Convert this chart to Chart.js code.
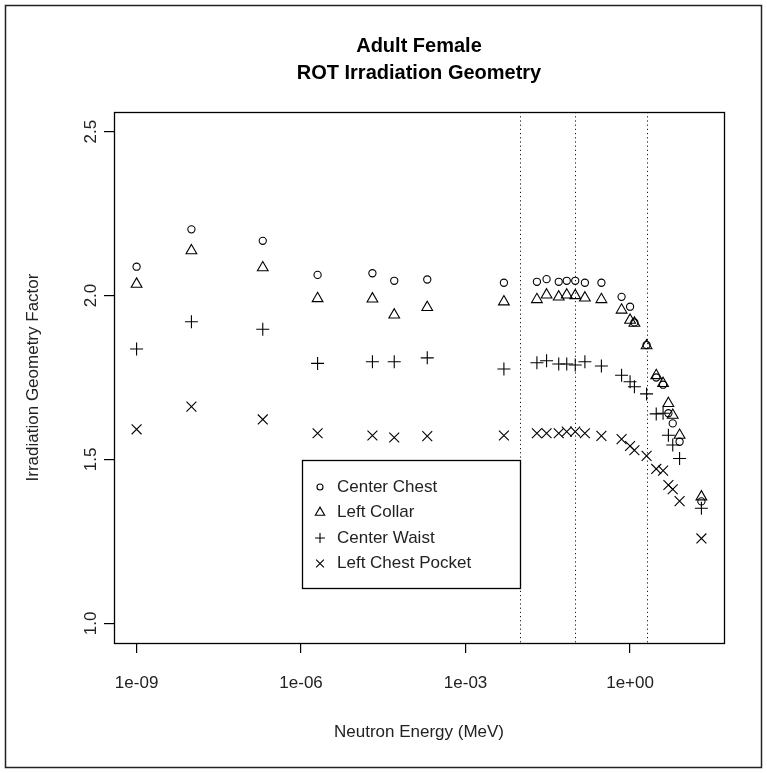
<!DOCTYPE html>
<html>
<head>
<meta charset="utf-8">
<title>Adult Female - ROT Irradiation Geometry</title>
<script src="https://cdn.jsdelivr.net/npm/chart.js@4/dist/chart.umd.min.js"></script>
<style>
  html, body { margin: 0; padding: 0; background: #fff; }
  #wrap { width: 767px; height: 773px; position: relative; }
</style>
</head>
<body>
<div id="wrap"><canvas id="chart" width="767" height="773"></canvas></div>
<script>
// Neutron energies (MeV) shared by all four dosimeter positions
const energies = [1e-9, 1e-8, 2e-7, 2e-6, 2e-5, 5e-5, 2e-4, 5e-3,
                  0.02, 0.03, 0.05, 0.07, 0.1, 0.15, 0.3,
                  0.7, 1, 1.2, 2, 3, 4, 5, 6, 8, 20];

// Irradiation geometry factor per position
const centerChest = [2.088, 2.202, 2.167, 2.063, 2.068, 2.045, 2.049, 2.039,
                     2.042, 2.050, 2.042, 2.045, 2.045, 2.039, 2.039,
                     1.996, 1.966, 1.918, 1.849, 1.750, 1.728, 1.641, 1.610, 1.554, 1.372];
const leftCollar = [2.035, 2.137, 2.085, 1.991, 1.990, 1.941, 1.964, 1.981,
                    1.988, 2.002, 1.996, 2.002, 2.000, 1.993, 1.988,
                    1.956, 1.925, 1.916, 1.847, 1.756, 1.732, 1.671, 1.635, 1.574, 1.386];
const centerWaist = [1.837, 1.920, 1.897, 1.793, 1.798, 1.798, 1.810, 1.776,
                     1.795, 1.801, 1.791, 1.791, 1.788, 1.798, 1.785,
                     1.757, 1.737, 1.722, 1.700, 1.639, 1.641, 1.574, 1.544, 1.503, 1.351];
const leftChestPocket = [1.592, 1.661, 1.622, 1.580, 1.573, 1.567, 1.571, 1.573,
                         1.580, 1.580, 1.580, 1.585, 1.585, 1.580, 1.572,
                         1.562, 1.541, 1.528, 1.511, 1.471, 1.466, 1.422, 1.409, 1.373, 1.259];

const seriesNames = ['Center Chest', 'Left Collar', 'Center Waist', 'Left Chest Pocket'];

// Axis ticks and limits
const xTickValues = [1e-9, 1e-6, 1e-3, 1];
const xTickLabels = ['1e-09', '1e-06', '1e-03', '1e+00'];
const yTickValues = [1.0, 1.5, 2.0, 2.5];
const yTickLabels = ['1.0', '1.5', '2.0', '2.5'];
const yLimits = [1.0, 2.5];

// Energy region boundaries (MeV), drawn as dotted verticals
const boundaryEnergies = [0.01, 0.1, 2];

const titleLines = ['Adult Female', 'ROT Irradiation Geometry'];
const xTitle = 'Neutron Energy (MeV)';
const yTitle = 'Irradiation Geometry Factor';

// ---------------------------------------------------------------------------
const FONT = "'Liberation Sans', Arial, Helvetica, sans-serif";

// pad a range by 4% on each side, like base R's default axis style
function padRange(lo, hi) {
  const d = (hi - lo) * 0.04;
  return [lo - d, hi + d];
}
const logRange = padRange(Math.log10(Math.min(...energies)), Math.log10(Math.max(...energies)));
const yRange = padRange(yLimits[0], yLimits[1]);

function toPoints(values) {
  return energies.map((e, i) => ({ x: e, y: values[i] }));
}

const symbolStyles = [
  { pointStyle: 'circle',   radius: 3.6, legendRadius: 3.0 },
  { pointStyle: 'triangle', radius: 6.2, legendRadius: 5.4 },
  { pointStyle: 'cross',    radius: 6.5, legendRadius: 5.0 },
  { pointStyle: 'crossRot', radius: 7.0, legendRadius: 5.5 }
];

const seriesValues = [centerChest, leftCollar, centerWaist, leftChestPocket];

const datasets = seriesValues.map((vals, i) => ({
  label: seriesNames[i],
  data: toPoints(vals),
  showLine: false,
  pointStyle: symbolStyles[i].pointStyle,
  pointRadius: symbolStyles[i].radius,
  pointHoverRadius: symbolStyles[i].radius,
  pointBorderWidth: 1.1,
  pointBorderColor: '#000',
  pointBackgroundColor: 'rgba(0,0,0,0)',
  borderColor: '#000',
  backgroundColor: 'rgba(0,0,0,0)'
}));

// draws one plotting symbol in the same geometry Chart.js uses for points
function drawSymbol(ctx, style, r, x, y) {
  ctx.beginPath();
  if (style === 'circle') {
    ctx.arc(x, y, r, 0, Math.PI * 2);
  } else if (style === 'triangle') {
    let a = 0;
    ctx.moveTo(x + Math.sin(a) * r, y - Math.cos(a) * r);
    a += 2 * Math.PI / 3;
    ctx.lineTo(x + Math.sin(a) * r, y - Math.cos(a) * r);
    a += 2 * Math.PI / 3;
    ctx.lineTo(x + Math.sin(a) * r, y - Math.cos(a) * r);
    ctx.closePath();
  } else if (style === 'cross') {
    ctx.moveTo(x, y - r); ctx.lineTo(x, y + r);
    ctx.moveTo(x - r, y); ctx.lineTo(x + r, y);
  } else if (style === 'crossRot') {
    const d = r * Math.SQRT1_2;
    ctx.moveTo(x - d, y - d); ctx.lineTo(x + d, y + d);
    ctx.moveTo(x - d, y + d); ctx.lineTo(x + d, y - d);
  }
  ctx.stroke();
}

const basePlotDecor = {
  id: 'basePlotDecor',
  beforeDatasetsDraw(chart) {
    const { ctx, chartArea: a, scales } = chart;
    ctx.save();
    ctx.strokeStyle = '#1a1a1a';
    ctx.lineWidth = 1;
    ctx.setLineDash([1.2, 3]);
    boundaryEnergies.forEach(e => {
      const x = Math.round(scales.x.getPixelForValue(e)) + 0.5;
      ctx.beginPath();
      ctx.moveTo(x, a.top);
      ctx.lineTo(x, a.bottom);
      ctx.stroke();
    });
    ctx.restore();
  },
  afterDraw(chart) {
    const { ctx, chartArea: a, scales } = chart;
    const W = chart.width, H = chart.height;
    ctx.save();
    ctx.fillStyle = '#000';
    ctx.strokeStyle = '#000';

    // plot box
    ctx.lineWidth = 1.3;
    ctx.strokeRect(Math.round(a.left) + 0.5, Math.round(a.top) + 0.5,
                   Math.round(a.right - a.left), Math.round(a.bottom - a.top));

    // outer frame
    ctx.lineWidth = 1.5;
    ctx.strokeStyle = '#222';
    ctx.strokeRect(5.5, 5.5, W - 11, H - 11);
    ctx.strokeStyle = '#000';

    const cx = (a.left + a.right) / 2;
    const cy = (a.top + a.bottom) / 2;

    // title
    ctx.textAlign = 'center';
    ctx.textBaseline = 'middle';
    ctx.font = 'bold 20px ' + FONT;
    titleLines.forEach((t, i) => ctx.fillText(t, cx, 46 + i * 27));

    // x tick labels
    ctx.font = '17px ' + FONT;
    ctx.fillStyle = '#222';
    xTickValues.forEach((v, i) => {
      ctx.fillText(xTickLabels[i], scales.x.getPixelForValue(v), a.bottom + 40);
    });

    // y tick labels (rotated, reading upward)
    yTickValues.forEach((v, i) => {
      ctx.save();
      ctx.translate(a.left - 23, scales.y.getPixelForValue(v));
      ctx.rotate(-Math.PI / 2);
      ctx.fillText(yTickLabels[i], 0, 0);
      ctx.restore();
    });

    // axis titles
    ctx.fillText(xTitle, cx, a.bottom + 89);
    ctx.save();
    ctx.translate(a.left - 81, cy);
    ctx.rotate(-Math.PI / 2);
    ctx.fillText(yTitle, 0, 0);
    ctx.restore();

    // legend
    const lx = a.left + 188, ly = a.top + 348, lw = 218, lh = 128;
    ctx.fillStyle = '#fff';
    ctx.fillRect(lx, ly, lw, lh);
    ctx.lineWidth = 1.3;
    ctx.strokeStyle = '#000';
    ctx.strokeRect(lx + 0.5, ly + 0.5, lw, lh);
    ctx.textAlign = 'left';
    ctx.fillStyle = '#222';
    ctx.font = '17px ' + FONT;
    chart.data.datasets.forEach((ds, i) => {
      const rowY = ly + 27 + i * 25.5;
      ctx.lineWidth = 1.1;
      drawSymbol(ctx, ds.pointStyle, symbolStyles[i].legendRadius, lx + 18, rowY);
      ctx.fillText(ds.label, lx + 35, rowY);
    });
    ctx.restore();
  }
};

new Chart(document.getElementById('chart'), {
  type: 'scatter',
  data: { datasets },
  options: {
    responsive: false,
    devicePixelRatio: 1,
    animation: false,
    events: [],
    layout: { padding: { top: 112, right: 43, left: 0, bottom: 0 } },
    plugins: {
      legend: { display: false },
      tooltip: { enabled: false },
      title: { display: false }
    },
    scales: {
      x: {
        type: 'logarithmic',
        min: Math.pow(10, logRange[0]),
        max: Math.pow(10, logRange[1]),
        afterBuildTicks: s => { s.ticks = xTickValues.map(v => ({ value: v })); },
        afterFit: s => { s.height = 130; },
        ticks: { display: false },
        border: { display: false },
        grid: { display: true, drawOnChartArea: false, drawTicks: true,
                tickLength: 10, color: '#000', lineWidth: 1.2 }
      },
      y: {
        type: 'linear',
        min: yRange[0],
        max: yRange[1],
        afterBuildTicks: s => { s.ticks = yTickValues.map(v => ({ value: v })); },
        afterFit: s => { s.width = 114; },
        ticks: { display: false },
        border: { display: false },
        grid: { display: true, drawOnChartArea: false, drawTicks: true,
                tickLength: 10, color: '#000', lineWidth: 1.2 }
      }
    }
  },
  plugins: [basePlotDecor]
});
</script>
</body>
</html>
